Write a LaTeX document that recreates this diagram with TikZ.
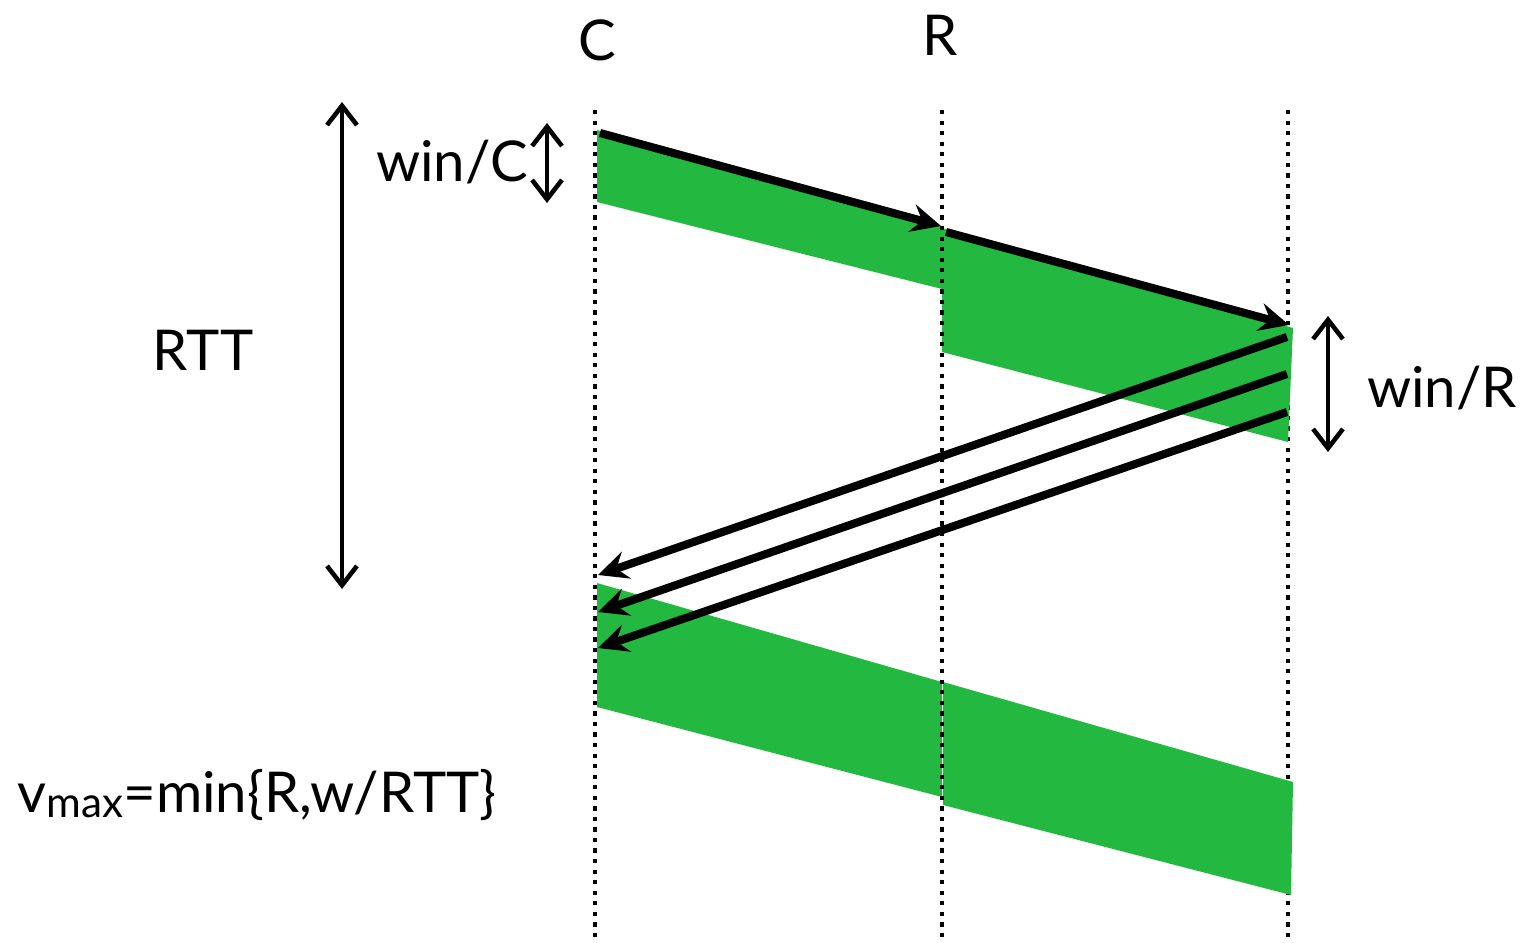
\documentclass[tikz,border=0pt]{standalone}
\usepackage{fontspec}
\setmainfont{Lato}
\usetikzlibrary{arrows.meta}
\definecolor{bandgreen}{RGB}{35, 184, 64}

\begin{document}
\begin{tikzpicture}[x=0.01cm, y=-0.01cm,
    timeline/.style={line width=1.4pt, dash pattern=on 1.2pt off 1.8pt},
    window/.style={fill=bandgreen, draw=none},
    msg/.style={-{Stealth[length=8.5pt, width=8pt, inset=3pt]}, line width=2.3pt},
    span/.style={{Straight Barb[length=5.5pt, width=8.5pt]}-{Straight Barb[length=5.5pt, width=8.5pt]}, line width=1.3pt},
    lbl/.style={font=\fontsize{16}{19}\selectfont}
]
\useasboundingbox (0,0) rectangle (1524,943);

% hosts
\node[lbl] (C) at (597,40) {C};
\node[lbl] (R) at (940,35) {R};

% time lines
\coordinate (Ctop) at (595,110);  \coordinate (Cbot) at (595,943);
\coordinate (Rtop) at (942,110);  \coordinate (Rbot) at (942,943);
\coordinate (Stop) at (1288,110); \coordinate (Sbot) at (1288,943);
\draw[timeline] (Stop) -- (Sbot);

% windows in flight
\fill[window] (597,130) -- (942,227) -- (942,289) -- (597,202) -- cycle;
\fill[window] (942,228) -- (1293,328) -- (1288,442) -- (942,352) -- cycle;
\fill[window] (597,583) -- (942,682) -- (942,797) -- (597,707) -- cycle;
\fill[window] (943,682) -- (1293,782) -- (1291,895) -- (943,805) -- cycle;

\draw[timeline] (Ctop) -- (Cbot);
\draw[timeline] (Rtop) -- (Rbot);

% data
\coordinate (d1s) at (600,133);  \coordinate (d1e) at (941,226);
\coordinate (d2s) at (946,232);  \coordinate (d2e) at (1289,325);
\draw[msg] (d1s) -- (d1e);
\draw[msg] (d2s) -- (d2e);

% acks
\coordinate (a1s) at (1287,337); \coordinate (a1e) at (598,575);
\coordinate (a2s) at (1287,374); \coordinate (a2e) at (598,612);
\coordinate (a3s) at (1287,412); \coordinate (a3e) at (598,648);
\draw[msg] (a1s) -- (a1e);
\draw[msg] (a2s) -- (a2e);
\draw[msg] (a3s) -- (a3e);

% spans
\coordinate (rtt1) at (342,102); \coordinate (rtt2) at (342,589);
\draw[span] (rtt1) -- (rtt2);
\node[lbl] (RTT) at (203,350) {RTT};

\coordinate (wc1) at (547,123); \coordinate (wc2) at (547,203);
\draw[span] (wc1) -- (wc2);
\node[lbl] (winC) at (452,162) {win/C};

\coordinate (wr1) at (1328,316); \coordinate (wr2) at (1328,452);
\draw[span] (wr1) -- (wr2);
\node[lbl] (winR) at (1442,388) {win/R};

\node[lbl] (vmax) at (257,795) {v{\fontsize{12}{14}\selectfont\raisebox{-0.25ex}{max}}=min\{R,w/RTT\}};
\end{tikzpicture}
\end{document}
